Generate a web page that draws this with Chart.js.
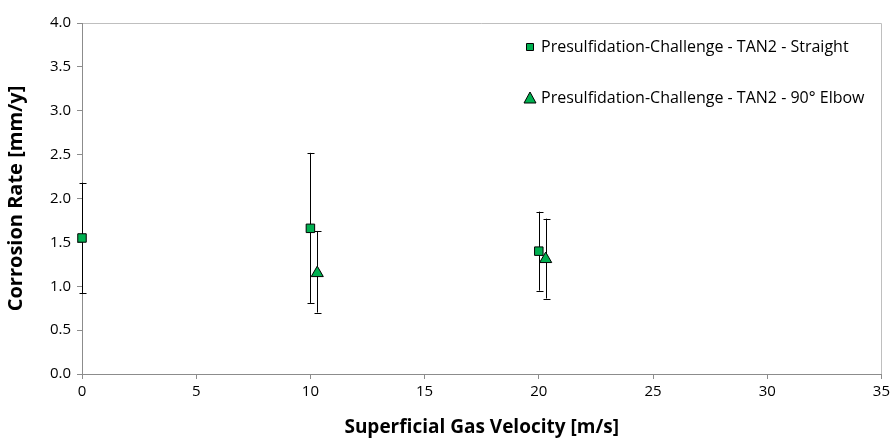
<!DOCTYPE html>
<html>
<head>
<meta charset="utf-8">
<script src="https://cdn.jsdelivr.net/npm/chart.js@4.4.0/dist/chart.umd.min.js"></script>
<style>
  html, body { margin: 0; padding: 0; background: #fff; }
  #wrap { width: 894px; height: 443px; }
</style>
</head>
<body>
<div id="wrap"><canvas id="chart" width="894" height="443"></canvas></div>
<script>
// data
const straightLabel = 'Presulfidation-Challenge - TAN2 - Straight';
const straightX    = [0, 10, 20];
const straightY    = [1.55, 1.66, 1.40];
const straightLow  = [0.92, 0.81, 0.95];
const straightHigh = [2.18, 2.52, 1.85];

const elbowLabel = 'Presulfidation-Challenge - TAN2 - 90° Elbow';
const elbowX    = [10.3, 20.3];
const elbowY    = [1.15, 1.31];
const elbowLow  = [0.70, 0.86];
const elbowHigh = [1.63, 1.77];

const xTicks = [0, 5, 10, 15, 20, 25, 30, 35];
const yTicks = [0, 0.5, 1.0, 1.5, 2.0, 2.5, 3.0, 3.5, 4.0];

const green = '#00b050';
const axisGray = '#8c8c8c';
const font = '"Open Sans", "DejaVu Sans", sans-serif';

function pts(xs, ys, lo, hi) {
  return xs.map((x, i) => ({ x: x, y: ys[i], lo: lo[i], hi: hi[i] }));
}

// vertical error bars with caps, drawn from the scales
const errorBars = {
  id: 'errorBars',
  beforeDatasetsDraw(chart) {
    const ctx = chart.ctx;
    const xs = chart.scales.x, ys = chart.scales.y;
    ctx.save();
    ctx.strokeStyle = '#000';
    ctx.lineWidth = 1;
    chart.data.datasets.forEach(ds => {
      ds.data.forEach(p => {
        const px = Math.round(xs.getPixelForValue(p.x)) + 0.5;
        const t = ys.getPixelForValue(p.hi), b = ys.getPixelForValue(p.lo);
        ctx.beginPath();
        ctx.moveTo(px, t); ctx.lineTo(px, b);
        ctx.moveTo(px - 3, Math.round(t) + 0.5); ctx.lineTo(px + 4, Math.round(t) + 0.5);
        ctx.moveTo(px - 3, Math.round(b) + 0.5); ctx.lineTo(px + 4, Math.round(b) + 0.5);
        ctx.stroke();
      });
    });
    ctx.restore();
  }
};

// box round the plot area
const plotBox = {
  id: 'plotBox',
  beforeDraw(chart) {
    const a = chart.chartArea, ctx = chart.ctx;
    ctx.save();
    ctx.strokeStyle = '#bfbfbf';
    ctx.lineWidth = 1;
    ctx.beginPath();
    ctx.moveTo(a.left, Math.round(a.top) + 0.5);
    ctx.lineTo(Math.round(a.right) + 0.5, Math.round(a.top) + 0.5);
    ctx.lineTo(Math.round(a.right) + 0.5, a.bottom);
    ctx.stroke();
    ctx.restore();
  }
};

// legend inside the plot, top right
const innerLegend = {
  id: 'innerLegend',
  afterDraw(chart) {
    const ctx = chart.ctx;
    const x0 = 530, rows = [47, 98];
    ctx.save();
    ctx.font = '16px ' + font;
    ctx.textBaseline = 'middle';
    chart.data.datasets.forEach((ds, i) => {
      const y = rows[i];
      ctx.fillStyle = green;
      ctx.strokeStyle = '#000';
      ctx.lineWidth = 1;
      ctx.beginPath();
      if (ds.pointStyle === 'triangle') {
        ctx.moveTo(x0, y - 6); ctx.lineTo(x0 + 6, y + 5); ctx.lineTo(x0 - 6, y + 5); ctx.closePath();
      } else {
        ctx.rect(x0 - 3.5, y - 3.5, 7, 7);
      }
      ctx.fill(); ctx.stroke();
      ctx.fillStyle = '#000';
      ctx.fillText(ds.label, x0 + 11, y);
    });
    ctx.restore();
  }
};

new Chart(document.getElementById('chart'), {
  type: 'scatter',
  data: {
    datasets: [
      {
        label: straightLabel,
        data: pts(straightX, straightY, straightLow, straightHigh),
        pointStyle: 'rect',
        pointRadius: 6,
        backgroundColor: green,
        borderColor: '#000',
        borderWidth: 1,
        clip: false
      },
      {
        label: elbowLabel,
        data: pts(elbowX, elbowY, elbowLow, elbowHigh),
        pointStyle: 'triangle',
        pointRadius: 7,
        backgroundColor: green,
        borderColor: '#000',
        borderWidth: 1,
        clip: false
      }
    ]
  },
  options: {
    responsive: false,
    animation: false,
    layout: { padding: { top: 23, right: 11, left: 0, bottom: 0 } },
    plugins: {
      legend: { display: false },
      tooltip: { enabled: false }
    },
    scales: {
      x: {
        type: 'linear',
        min: 0, max: 35,
        afterBuildTicks: s => { s.ticks = xTicks.map(v => ({ value: v })); },
        afterFit: s => { s.height = 69; },
        grid: { drawOnChartArea: false, color: axisGray, tickLength: 5 },
        border: { color: axisGray },
        ticks: { color: '#000', font: { family: font, size: 15 }, padding: 4, maxRotation: 0 },
        title: {
          display: true,
          text: 'Superficial Gas Velocity [m/s]',
          color: '#000',
          font: { family: font, size: 19, weight: 'bold' },
          padding: { top: 3 }
        }
      },
      y: {
        type: 'linear',
        min: 0, max: 4,
        afterBuildTicks: s => { s.ticks = yTicks.map(v => ({ value: v })); },
        afterFit: s => { s.width = 82; },
        grid: { drawOnChartArea: false, color: axisGray, tickLength: 5 },
        border: { color: axisGray },
        ticks: {
          color: '#000', font: { family: font, size: 15 }, padding: 6,
          callback: v => Number(v).toFixed(1)
        },
        title: {
          display: true,
          text: 'Corrosion Rate [mm/y]',
          color: '#000',
          font: { family: font, size: 20, weight: 'bold' },
          padding: { bottom: 2 }
        }
      }
    }
  },
  plugins: [plotBox, errorBars, innerLegend]
});
</script>
</body>
</html>
